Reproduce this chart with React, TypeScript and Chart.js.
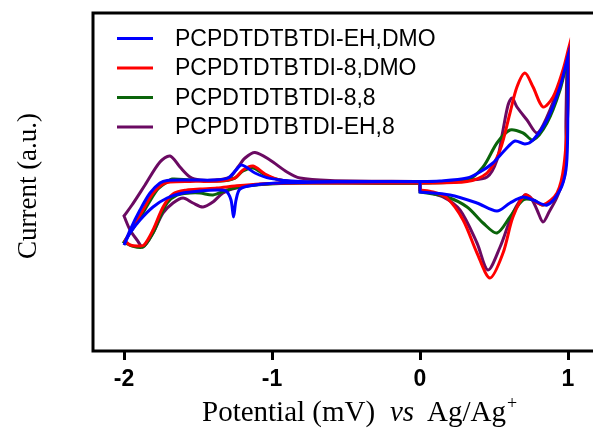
import React, { useEffect, useRef } from "react";
import { Chart, registerables } from "chart.js";

Chart.register(...registerables);

// ---- Data (potential in V vs Ag/Ag+, current in arbitrary units) ----
const seriesLabels = [
  "PCPDTDTBTDI-EH,DMO",
  "PCPDTDTBTDI-8,DMO",
  "PCPDTDTBTDI-8,8",
  "PCPDTDTBTDI-EH,8",
];
const seriesColors = ["#0000ff", "#ff0000", "#0a640a", "#6b0a62"];

const xTickValues = [-2, -1, 0, 1];
const xTickLabels = ["-2", "-1", "0", "1"];

const ehDmoPotential = [
  0, -0.473, -0.811, -1.014, -1.115, -1.176, -1.209, -1.243, -1.297, -1.385, -1.554, -1.709, -1.757, -1.824, -1.892, -1.959, -2.0, -2.0,
  -1.959, -1.892, -1.804, -1.709, -1.601, -1.486, -1.372, -1.311, -1.277, -1.26, -1.243, -1.216, -1.115, -0.946, -0.473, 0,
  0.135, 0.318, 0.405, 0.493, 0.574, 0.642, 0.709, 0.764, 0.858, 0.946, 1.0, 1.0,
  0.997, 0.986, 0.946, 0.858, 0.764, 0.696, 0.608, 0.52, 0.385, 0.203, 0, 0, 0,
];
const ehDmoCurrent = [
  0.03, 0.03, 0.03, 0.18, 0.45, 0.75, 0.85, 0.6, 0.2, 0.1, 0.1, 0.08, -0.05, -0.55, -1.4, -2.4, -3.15, -3.15,
  -2.55, -1.9, -1.25, -0.8, -0.55, -0.45, -0.4, -0.45, -0.9, -1.75, -0.9, -0.35, -0.15, -0.05, 0, 0.02,
  0.05, 0.2, 0.5, 0.95, 1.6, 2.05, 1.9, 2.1, 3.1, 4.75, 6.3, 6.3,
  2.1, 0.6, -0.4, -1.15, -0.9, -0.75, -1.05, -1.45, -1.05, -0.65, -0.5, -0.5, 0.03,
];

const c8DmoPotential = [
  0, -0.473, -0.811, -0.946, -1.047, -1.128, -1.196, -1.25, -1.351, -1.554, -1.689, -1.736, -1.804, -1.872, -1.939, -1.993, -1.993,
  -1.959, -1.912, -1.865, -1.804, -1.736, -1.669, -1.574, -1.486, -1.372, -1.25, -1.081, -0.811, 0,
  0.318, 0.453, 0.541, 0.608, 0.655, 0.709, 0.764, 0.831, 0.899, 0.966, 1.003, 1.003,
  1.0, 0.973, 0.926, 0.831, 0.764, 0.709, 0.628, 0.561, 0.473, 0.385, 0.291, 0.182, 0.088, 0, 0, 0,
];
const c8DmoCurrent = [
  -0.03, -0.03, 0, 0.1, 0.4, 0.8, 0.6, 0.2, 0.05, 0.03, 0, -0.1, -0.55, -1.4, -2.25, -2.95, -2.95,
  -3.15, -3.2, -3.15, -2.4, -1.25, -0.6, -0.4, -0.35, -0.3, -0.2, -0.1, -0.05, -0.05,
  0.02, 0.45, 1.6, 3.45, 4.75, 5.45, 4.75, 3.75, 4.25, 5.6, 6.65, 6.65,
  3.75, 0.85, -0.55, -1.15, -0.9, -0.65, -1.75, -3.55, -4.8, -3.55, -1.9, -0.8, -0.5, -0.4, -0.4, -0.03,
];

const c88Potential = [
  0, -0.811, -0.946, -1.047, -1.128, -1.196, -1.25, -1.351, -1.554, -1.676, -1.709, -1.777, -1.872, -1.959, -2.0, -2.0,
  -1.946, -1.872, -1.804, -1.757, -1.709, -1.642, -1.554, -1.486, -1.399, -1.304, -1.182, -1.014, -0.811, 0,
  0.318, 0.426, 0.52, 0.608, 0.696, 0.764, 0.858, 0.946, 1.0, 1.0,
  0.993, 0.966, 0.899, 0.831, 0.764, 0.696, 0.608, 0.52, 0.426, 0.318, 0.182, 0, 0, 0,
];
const c88Current = [
  0, 0, 0.1, 0.35, 0.7, 0.55, 0.2, 0.05, 0.1, 0.15, 0, -0.4, -1.55, -2.55, -3.0, -3.0,
  -3.2, -3.25, -2.55, -1.75, -1.05, -0.65, -0.55, -0.55, -0.65, -0.4, -0.2, -0.1, -0.05, -0.05,
  0.1, 0.75, 1.95, 2.6, 2.45, 2.1, 2.95, 4.6, 6.25, 6.25,
  2.1, 0.1, -0.9, -1.15, -0.9, -0.9, -1.75, -2.55, -2.05, -1.25, -0.75, -0.5, -0.5, 0,
];

const ehC8Potential = [
  0, -0.608, -0.811, -0.899, -1.014, -1.115, -1.182, -1.23, -1.284, -1.385, -1.486, -1.554, -1.622, -1.689, -1.757, -1.858, -1.946, -2.0, -2.0,
  -1.959, -1.912, -1.872, -1.804, -1.736, -1.669, -1.601, -1.534, -1.466, -1.399, -1.331, -1.216, -0.946, 0,
  0.318, 0.453, 0.52, 0.561, 0.595, 0.622, 0.655, 0.723, 0.791, 0.858, 0.946, 0.993, 0.993,
  0.986, 0.98, 0.926, 0.872, 0.831, 0.791, 0.75, 0.709, 0.628, 0.541, 0.459, 0.385, 0.27, 0.155, 0, 0, 0,
];
const ehC8Current = [
  0.03, 0.08, 0.2, 0.5, 1.1, 1.48, 1.2, 0.75, 0.25, 0.1, 0.1, 0.25, 0.75, 1.3, 1.0, -0.15, -1.15, -1.7, -1.7,
  -2.4, -2.9, -3.25, -2.55, -1.55, -1.05, -0.8, -1.05, -1.25, -1.0, -0.55, -0.25, -0.05, -0.05,
  0.1, 0.25, 1.1, 2.6, 3.85, 4.2, 3.75, 3.1, 2.45, 3.25, 4.95, 6.1, 6.1,
  3.1, 0.45, -0.75, -1.5, -2.0, -1.4, -0.8, -0.65, -1.55, -3.25, -4.4, -3.05, -1.4, -0.75, -0.4, -0.4, 0.03,
];

const potentials = [ehDmoPotential, c8DmoPotential, c88Potential, ehC8Potential];
const currents = [ehDmoCurrent, c8DmoCurrent, c88Current, ehC8Current];

const X_MIN = -2.2095;
const X_MAX = 1.1689;
const Y_MIN = -8.45;
const Y_MAX = 8.45;

const SERIF = "'Liberation Serif', 'Times New Roman', serif";

const decorPlugin = {
  id: "decor",
  afterDraw(chart: any) {
    const { ctx, chartArea } = chart;
    const { left, top, bottom } = chartArea;
    const right = chart.width + 4;
    ctx.save();
    // frame
    ctx.strokeStyle = "#000";
    ctx.lineWidth = 3;
    ctx.lineJoin = "miter";
    ctx.beginPath();
    ctx.moveTo(right, bottom);
    ctx.lineTo(left, bottom);
    ctx.lineTo(left, top);
    ctx.lineTo(right, top);
    ctx.stroke();

    // legend
    const rowY = [38.5, 68, 97.5, 127];
    ctx.font = "23px 'Liberation Sans', Arial, sans-serif";
    ctx.textBaseline = "middle";
    ctx.textAlign = "left";
    seriesLabels.forEach((lab, i) => {
      ctx.strokeStyle = seriesColors[i];
      ctx.lineWidth = 3;
      ctx.beginPath();
      ctx.moveTo(117, rowY[i]);
      ctx.lineTo(153, rowY[i]);
      ctx.stroke();
      ctx.fillStyle = "#000";
      ctx.fillText(lab, 175, rowY[i] + 1);
    });

    // x axis title
    ctx.fillStyle = "#000";
    ctx.textBaseline = "alphabetic";
    const base = 421;
    ctx.font = "29px " + SERIF;
    ctx.fillText("Potential (mV)", 202, base);
    ctx.font = "italic 29px " + SERIF;
    ctx.fillText("vs", 390, base);
    ctx.font = "29px " + SERIF;
    ctx.fillText("Ag/Ag", 427, base);
    const w = ctx.measureText("Ag/Ag").width;
    ctx.font = "18px " + SERIF;
    ctx.fillText("+", 427 + w + 1, base - 12);

    // y axis title
    ctx.translate(29, 186);
    ctx.rotate(-Math.PI / 2);
    ctx.font = "27px " + SERIF;
    ctx.textAlign = "center";
    ctx.textBaseline = "middle";
    ctx.fillText("Current (a.u.)", 0, 0);
    ctx.restore();
  },
};

export default function App() {
  const canvasRef = useRef<HTMLCanvasElement | null>(null);

  useEffect(() => {
    const canvas = canvasRef.current;
    if (!canvas) return;
    const datasets = seriesLabels.map((label, i) => ({
      label,
      data: potentials[i].map((x, j) => ({ x, y: currents[i][j] })),
      borderColor: seriesColors[i],
      backgroundColor: seriesColors[i],
      borderWidth: 3,
      showLine: true,
      pointRadius: 0,
      pointHoverRadius: 0,
      tension: 0.3,
      fill: false,
    }));
    const chart = new Chart(canvas, {
      type: "scatter",
      data: { datasets },
      options: {
        animation: false,
        responsive: false,
        maintainAspectRatio: false,
        events: [],
        layout: { padding: { left: 93, top: 13, right: 0, bottom: 0 } },
        plugins: {
          legend: { display: false },
          tooltip: { enabled: false },
          title: { display: false },
        },
        scales: {
          x: {
            type: "linear",
            min: X_MIN,
            max: X_MAX,
            afterBuildTicks: (scale: any) => {
              scale.ticks = xTickValues.map((v) => ({ value: v }));
            },
            afterFit: (scale: any) => {
              scale.height = 85;
            },
            ticks: {
              color: "#000",
              padding: 6,
              autoSkip: false,
              maxRotation: 0,
              font: { family: "'Liberation Sans', Arial, sans-serif", size: 23, weight: "bold" },
              callback: (value: any) => {
                const idx = xTickValues.indexOf(Number(value));
                return idx >= 0 ? xTickLabels[idx] : "";
              },
            },
            grid: {
              display: true,
              drawOnChartArea: false,
              drawTicks: true,
              tickLength: 9,
              lineWidth: 3,
              color: "#000",
            },
            border: { display: false },
          },
          y: {
            type: "linear",
            display: false,
            min: Y_MIN,
            max: Y_MAX,
          },
        },
      },
      plugins: [decorPlugin],
    });
    return () => chart.destroy();
  }, []);

  return (
    <div style={{ position: "absolute", left: 0, top: 0, width: 593, height: 436 }}>
      <canvas ref={canvasRef} width={593} height={436} style={{ width: 593, height: 436, display: "block" }} />
    </div>
  );
}
